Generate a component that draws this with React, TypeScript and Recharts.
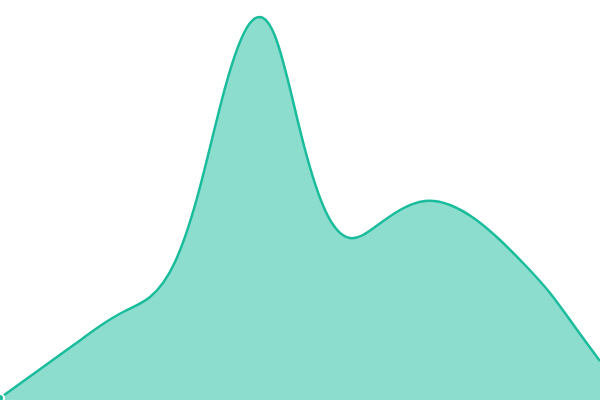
import React from "react"
import { AreaChart, Area, XAxis, YAxis } from "recharts"

// curve every 25px
const xs = [
  0, 25, 50, 75, 100, 125, 150, 175, 200, 225, 250, 275, 300, 325, 350, 375,
  400, 425, 450, 475, 500, 525, 550, 575, 600,
]
const values = [
  2, 20, 38, 56, 74, 89, 103, 138, 213, 312, 377, 364, 270, 190, 162, 173,
  190, 199, 195, 181, 160, 135, 107, 73, 39,
]

const data = xs.map((x, i) => ({ x, value: values[i] }))

export default function App() {
  return (
    <div style={{ position: "absolute", left: 0, top: 0 }}>
      <AreaChart
        width={600}
        height={400}
        data={data}
        margin={{ top: 0, right: 0, left: 0, bottom: 0 }}
      >
        <XAxis dataKey="x" type="number" domain={[0, 600]} hide />
        <YAxis domain={[0, 400]} hide />
        <Area
          type="natural"
          dataKey="value"
          stroke="#1abc9c"
          strokeWidth={2.5}
          fill="#1abc9c"
          fillOpacity={0.5}
          isAnimationActive={false}
        />
      </AreaChart>
    </div>
  )
}
